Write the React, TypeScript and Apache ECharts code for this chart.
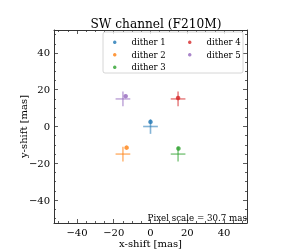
import React, { useEffect, useRef } from "react";
import * as echarts from "echarts";

const names = ["dither 1", "dither 2", "dither 3", "dither 4", "dither 5"];
const colors = ["#1f77b4", "#ff7f0e", "#2ca02c", "#d62728", "#9467bd"];
const crossX = [0, -15, 15, 15, -15];
const crossY = [0, -15, -15, 15, 15];
const dotX = [0, -13, 15.2, 15, -13.5];
const dotY = [2.5, -11.5, -12, 15.5, 16.5];
const majorTicks = [-40, -20, 0, 20, 40];
const minorTicks = [-50, -45, -35, -30, -25, -15, -10, -5, 5, 10, 15, 25, 30, 35, 45, 50];
const crossHalf = 4;
const AX = 52.5;

const FONT = "DejaVu Serif";
const fmt = (v: number) => String(v).replace("-", "\u2212");

export default function App() {
  const ref = useRef<HTMLDivElement>(null);
  useEffect(() => {
    const chart = echarts.init(ref.current!, null, { renderer: "svg" });
    const mkAxis = (dim: "x" | "y", pos: string, major: boolean, showLabel: boolean, showLine: boolean, name?: string) => ({
      type: "value",
      position: pos,
      min: -AX,
      max: AX,
      name,
      nameLocation: "middle",
      nameMoveOverlap: false,
      nameGap: dim === "x" ? 15 : 26,
      nameTextStyle: { fontFamily: FONT, fontSize: 10, color: "#000" },
      axisLine: { show: showLine, onZero: false, lineStyle: { color: "#333", width: 1 } },
      axisTick: {
        show: true,
        inside: true,
        length: major ? 4 : 2,
        customValues: major ? majorTicks : minorTicks,
        lineStyle: { color: "#333", width: 0.8 },
      },
      axisLabel: {
        show: showLabel,
        customValues: majorTicks,
        formatter: fmt,
        fontFamily: FONT,
        fontSize: 10,
        color: "#000",
        margin: 4,
      },
      splitLine: { show: false },
    });
    const scatterSeries = names.map((n, i) => ({
      type: "scatter",
      name: n,
      data: [[dotX[i], dotY[i]]],
      symbol: "circle",
      symbolSize: 4.5,
      itemStyle: { color: colors[i] },
      z: 3,
    }));
    const crossSeries = {
      type: "custom",
      name: "cross",
      data: crossX.map((x, i) => [x, crossY[i], i]),
      renderItem: (params: any, api: any) => {
        const x = api.value(0);
        const y = api.value(1);
        const i = api.value(2);
        const l = api.coord([x - crossHalf, y]);
        const r = api.coord([x + crossHalf, y]);
        const t = api.coord([x, y + crossHalf]);
        const b = api.coord([x, y - crossHalf]);
        const style = { stroke: colors[i], lineWidth: 1.6, opacity: 0.55 };
        return {
          type: "group",
          children: [
            { type: "line", shape: { x1: l[0], y1: l[1], x2: r[0], y2: r[1] }, style },
            { type: "line", shape: { x1: t[0], y1: t[1], x2: b[0], y2: b[1] }, style },
          ],
        };
      },
      z: 2,
    };
    const legendCommon = {
      orient: "vertical",
      itemWidth: 3.5,
      itemHeight: 3.5,
      itemGap: 0,
      icon: "circle",
      padding: 0,
      textStyle: { fontFamily: FONT, fontSize: 8.5, color: "#000", lineHeight: 12.5, padding: [0, 0, 0, 10] },
    };
    chart.setOption({
      animation: false,
      title: {
        text: "SW channel (F210M)",
        left: 151,
        textAlign: "center",
        top: 13,
        textStyle: { fontFamily: FONT, fontSize: 12.2, fontWeight: "normal", color: "#000" },
      },
      grid: { left: 54, right: 46, top: 30, bottom: 28, outerBoundsMode: "none", containLabel: false },
      legend: [
        { ...legendCommon, data: names.slice(0, 3), left: 113, top: 36 },
        { ...legendCommon, data: names.slice(3), left: 188, top: 36 },
      ],
      graphic: [
        {
          type: "rect",
          shape: { x: 103, y: 32, width: 140, height: 41, r: 2 },
          style: { fill: "rgba(255,255,255,0.8)", stroke: "#ccc", lineWidth: 0.8 },
          z: 1,
        },
        {
          type: "text",
          x: 247,
          y: 218,
          style: {
            text: "Pixel scale = 30.7 mas",
            align: "right",
            verticalAlign: "middle",
            fontFamily: FONT,
            fontSize: 8.7,
            fill: "#000",
          },
          z: 10,
        },
      ],
      xAxis: [
        mkAxis("x", "bottom", true, true, true, "x-shift [mas]"),
        mkAxis("x", "bottom", false, false, false),
        mkAxis("x", "top", true, false, true),
        mkAxis("x", "top", false, false, false),
      ],
      yAxis: [
        mkAxis("y", "left", true, true, true, "y-shift [mas]"),
        mkAxis("y", "left", false, false, false),
        mkAxis("y", "right", true, false, true),
        mkAxis("y", "right", false, false, false),
      ],
      series: [crossSeries, ...scatterSeries],
    });
    return () => chart.dispose();
  }, []);
  return <div ref={ref} style={{ position: "fixed", left: 0, top: 0, width: 293, height: 251 }} />;
}
